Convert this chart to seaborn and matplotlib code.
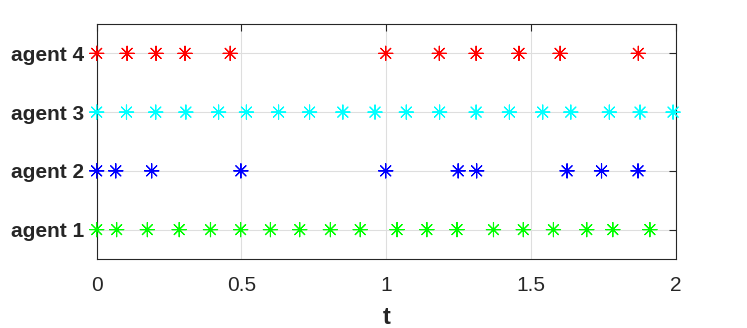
import pandas as pd
import seaborn as sns
import matplotlib.pyplot as plt

sns.set_style("white")
plt.rcParams['font.family'] = ['Liberation Sans', 'DejaVu Sans']

# event times, one list per agent
agent1_t = [0, 0.069, 0.175, 0.285, 0.393, 0.497, 0.60, 0.701, 0.807, 0.91,
            1.037, 1.14, 1.244, 1.37, 1.473, 1.577, 1.692, 1.782, 1.91]
agent2_t = [0, 0.066, 0.19, 0.498, 0.998, 1.248, 1.312, 1.624, 1.743, 1.869]
agent3_t = [0, 0.103, 0.204, 0.308, 0.421, 0.517, 0.628, 0.735, 0.85, 0.961,
            1.069, 1.184, 1.31, 1.425, 1.54, 1.637, 1.77, 1.876, 1.99]
agent4_t = [0, 0.105, 0.205, 0.305, 0.461, 0.998, 1.183, 1.31, 1.458, 1.60, 1.87]

agents = ["agent 1", "agent 2", "agent 3", "agent 4"]
colors = ["#00ff00", "#0000ff", "#00ffff", "#ff0000"]
x_ticks = [0, 0.5, 1, 1.5, 2]
x_ticklabels = ["0", "0.5", "1", "1.5", "2"]

# long-form table: one row per event
rows = []
for k, times in enumerate([agent1_t, agent2_t, agent3_t, agent4_t]):
    for t in times:
        rows.append({"t": t, "level": k + 1, "agent": agents[k]})
df = pd.DataFrame(rows)

fig = plt.figure(figsize=(7.47, 3.28), dpi=100)
ax = fig.add_axes([0.1294, 0.2104, 0.7755, 0.7165])

# asterisk markers, not clipped at the axes edge
sns.scatterplot(data=df, x="t", y="level", hue="agent", hue_order=agents,
                palette=colors, marker=(8, 2, 0), s=105, linewidth=0.8,
                legend=False, ax=ax, zorder=3, clip_on=False)

ax.set_xlim(0, 2)
ax.set_ylim(0.5, 4.5)
ax.set_xticks(x_ticks)
ax.set_xticklabels(x_ticklabels, fontsize=15, color="#262626")
ax.set_yticks([1, 2, 3, 4])
ax.set_yticklabels(agents, fontsize=15, fontweight="bold", color="#262626")
ax.set_xlabel("t", fontsize=17, fontweight="bold", color="#262626", labelpad=8)
ax.set_ylabel("")

ax.grid(True, color="#dedede", linewidth=0.8)
ax.set_axisbelow(True)
ax.tick_params(direction="in", top=True, right=True, length=5, width=0.8,
               color="#262626")
ax.tick_params(axis="x", pad=12)
ax.tick_params(axis="y", pad=9)
for s in ax.spines.values():
    s.set_visible(True)
    s.set_color("#262626")
    s.set_linewidth(0.8)

fig.savefig("out.png", dpi=100)
